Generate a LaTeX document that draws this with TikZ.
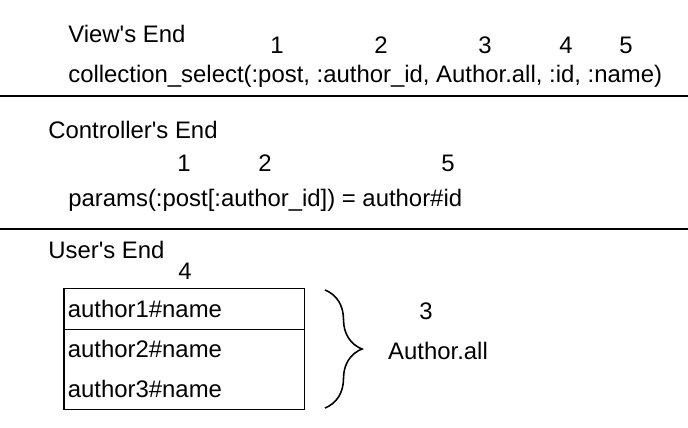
\documentclass[tikz,border=0pt]{standalone}
\usepackage{fontspec}
\setmainfont{Liberation Sans}
\usetikzlibrary{decorations.pathreplacing}

\begin{document}
\begin{tikzpicture}[
        x=0.02cm, y=-0.02cm,
        txt/.style={font=\fontsize{13.6pt}{15pt}\selectfont, inner sep=0pt, anchor=west},
        num/.style={font=\fontsize{13.6pt}{15pt}\selectfont, inner sep=0pt},
        sep/.style={line width=1.3pt},
        row/.style={txt, minimum height=0.8cm, text width=4.66cm, inner sep=2pt},
        bracket/.style={decorate, decoration={brace, amplitude=0.74cm}, line width=0.9pt}
    ]
    \useasboundingbox (0,0) rectangle (688,428);

    % ---- View's end ----
    \node[txt] (view) at (68, 34) {View\textquotesingle s End};
    \node[num] (v1) at (277, 45) {1};
    \node[num] (v2) at (381, 45) {2};
    \node[num] (v3) at (485, 45) {3};
    \node[num] (v4) at (566, 45) {4};
    \node[num] (v5) at (626, 45) {5};
    \node[txt] (vcall) at (68, 76) {collection\_select(:post, :author\_id, Author.all, :id, :name)};

    \coordinate (s1l) at (0, 96);
    \coordinate (s1r) at (688, 96);
    \draw[sep] (s1l) -- (s1r);

    % ---- Controller's end ----
    \node[txt] (ctrl) at (48, 130) {Controller\textquotesingle s End};
    \node[num] (c1) at (184, 163) {1};
    \node[num] (c2) at (265, 163) {2};
    \node[num] (c5) at (448, 163) {5};
    \node[txt] (ccall) at (68, 200) {params(:post[:author\_id]) = author\#id};

    \coordinate (s2l) at (0, 229);
    \coordinate (s2r) at (688, 229);
    \draw[sep] (s2l) -- (s2r);

    % ---- User's end ----
    \node[txt] (user) at (48, 250) {User\textquotesingle s End};
    \node[num] (u4) at (185, 271) {4};

    \node[row] (a1) at (64, 309) {author1\#name};
    \node[row] (a2) at (64, 349) {author2\#name};
    \node[row] (a3) at (64, 389) {author3\#name};
    \draw[line width=0.9pt] (a1.north west) rectangle (a3.south east);
    \draw[line width=0.9pt] (a1.south west) -- (a1.south east);

    \coordinate (brtop) at (325, 290);
    \coordinate (brbot) at (325, 408);
    \draw[bracket] (brtop) -- (brbot);

    \node[num] (u3) at (426, 311) {3};
    \node[num] (all) at (438, 351) {Author.all};
\end{tikzpicture}
\end{document}
